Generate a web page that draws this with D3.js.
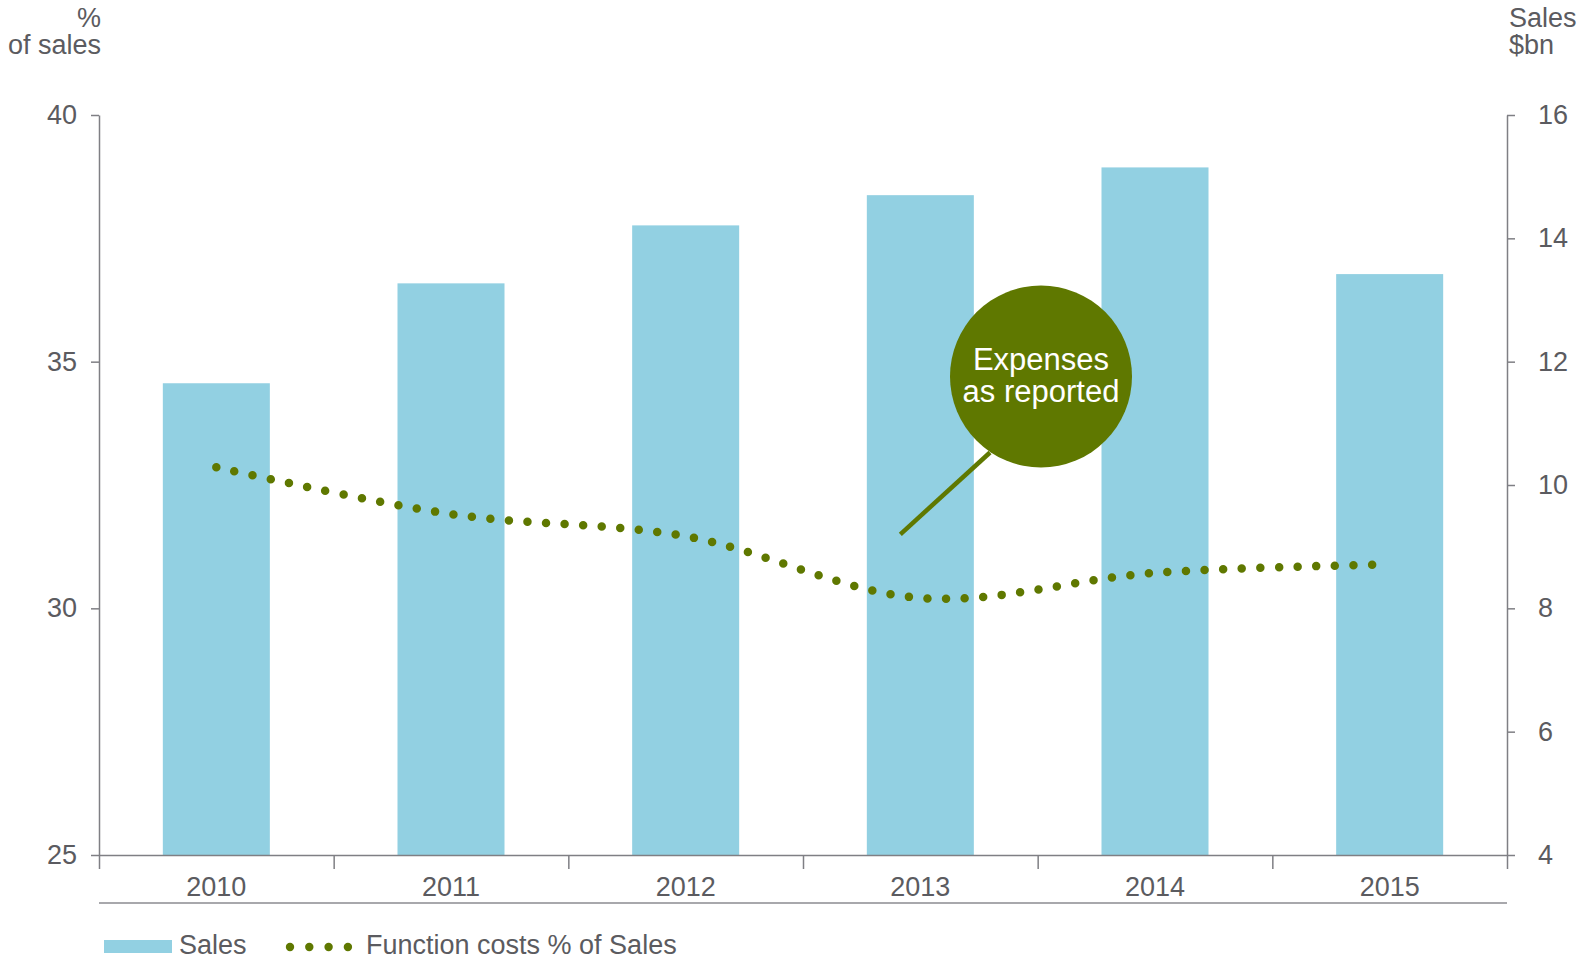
<!DOCTYPE html>
<html>
<head>
<meta charset="utf-8">
<script src="https://cdn.jsdelivr.net/npm/d3@7"></script>
<style>
  body { margin: 0; background: #fff; }
  svg { display: block; font-family: "Liberation Sans", Arial, sans-serif; }
</style>
</head>
<body>
<div id="chart"></div>
<script>
// Data
const YEARS = ["2010", "2011", "2012", "2013", "2014", "2015"];
const SALES = [11.65, 13.27, 14.21, 14.70, 15.15, 13.42];        // $bn, right axis
const COST_PCT = [32.86, 31.91, 31.46, 30.21, 30.72, 30.89];     // % of sales, left axis
const LEFT_TICKS = [25, 30, 35, 40];
const RIGHT_TICKS = [4, 6, 8, 10, 12, 14, 16];

// Constants
const width = 1587;
const height = 959;
const COLOR_BAR = "#92d0e2";
const COLOR_GREEN = "#5f7800";
const COLOR_AXIS = "#7f7f84";
const COLOR_TEXT = "#5b5b60";
const FONT_SIZE = 27;

const plot = { left: 99, right: 1507, top: 115, bottom: 855 };

const svg = d3.select("#chart")
  .append("svg")
  .attr("width", width)
  .attr("height", height);

// Scales
const x = d3.scaleBand()
  .domain(YEARS)
  .range([plot.left, plot.right])
  .paddingInner(0.544)
  .paddingOuter(0.272);
const xc = d => x(d) + x.bandwidth() / 2;

const yLeft = d3.scaleLinear().domain([25, 40]).range([plot.bottom, plot.top]);
const yRight = d3.scaleLinear().domain([4, 16]).range([plot.bottom, plot.top]);

// Bars (sales)
svg.append("g")
  .selectAll("rect")
  .data(YEARS.map((y, i) => ({ year: y, v: SALES[i] })))
  .join("rect")
  .attr("x", d => x(d.year))
  .attr("width", x.bandwidth())
  .attr("y", d => yRight(d.v))
  .attr("height", d => yRight(4) - yRight(d.v))
  .attr("fill", COLOR_BAR);

// Axes
const styleAxis = g => {
  g.select(".domain").attr("stroke", COLOR_AXIS).attr("stroke-width", 1.5);
  g.selectAll(".tick line").attr("stroke", COLOR_AXIS).attr("stroke-width", 1.5);
  g.selectAll(".tick text")
    .attr("fill", COLOR_TEXT)
    .attr("font-size", FONT_SIZE)
    .attr("font-family", "Liberation Sans, Arial, sans-serif");
};

svg.append("g")
  .attr("transform", `translate(${plot.left},0)`)
  .call(d3.axisLeft(yLeft).tickValues(LEFT_TICKS).tickSize(8).tickPadding(14).tickSizeOuter(0))
  .call(styleAxis);

svg.append("g")
  .attr("transform", `translate(${plot.right},0)`)
  .call(d3.axisRight(yRight).tickValues(RIGHT_TICKS).tickSize(8).tickPadding(23).tickSizeOuter(0))
  .call(styleAxis);

// bottom axis: ticks on the band boundaries, labels centred in the bands
const xEdges = d3.scaleLinear().domain([0, YEARS.length]).range([plot.left, plot.right]);
svg.append("g")
  .attr("transform", `translate(0,${plot.bottom})`)
  .call(d3.axisBottom(xEdges).ticks(YEARS.length).tickFormat("").tickSize(14).tickSizeOuter(0))
  .call(styleAxis);

svg.append("g")
  .attr("transform", `translate(0,${plot.bottom})`)
  .call(d3.axisBottom(x).tickSize(0).tickPadding(22))
  .call(styleAxis)
  .call(g => g.select(".domain").remove());

// line under the year labels
svg.append("line")
  .attr("x1", plot.left).attr("x2", plot.right)
  .attr("y1", 903).attr("y2", 903)
  .attr("stroke", "#a8a8ac")
  .attr("stroke-width", 2);

// Dotted smoothed line (function costs)
const line = d3.line()
  .x((d, i) => xc(YEARS[i]))
  .y(d => yLeft(d))
  .curve(d3.curveCatmullRom);

svg.append("path")
  .datum(COST_PCT)
  .attr("d", line)
  .attr("fill", "none")
  .attr("stroke", COLOR_GREEN)
  .attr("stroke-width", 8.5)
  .attr("stroke-linecap", "round")
  .attr("stroke-dasharray", "0 18.6");

// Axis titles
const title = (txt, xp, yp, anchor) => svg.append("text")
  .attr("x", xp).attr("y", yp)
  .attr("text-anchor", anchor)
  .attr("fill", COLOR_TEXT)
  .attr("font-size", FONT_SIZE)
  .text(txt);

title("%", 101, 27, "end");
title("of sales", 101, 54, "end");
title("Sales", 1509, 27, "start");
title("$bn", 1509, 54, "start");

// Annotation bubble
const pointer = [xc("2013") - 20, yLeft(31.5)];
const bubble = { cx: xc("2014") - 114, cy: yLeft(34.7), r: 91 };

svg.append("line")
  .attr("x1", pointer[0]).attr("y1", pointer[1])
  .attr("x2", bubble.cx - 51).attr("y2", bubble.cy + 76)
  .attr("stroke", COLOR_GREEN)
  .attr("stroke-width", 4.5);

svg.append("circle")
  .attr("cx", bubble.cx).attr("cy", bubble.cy).attr("r", bubble.r)
  .attr("fill", COLOR_GREEN);

svg.append("text")
  .attr("x", bubble.cx).attr("y", bubble.cy - 6)
  .attr("text-anchor", "middle")
  .attr("fill", "#fff")
  .attr("font-size", 31)
  .text("Expenses");
svg.append("text")
  .attr("x", bubble.cx).attr("y", bubble.cy + 26)
  .attr("text-anchor", "middle")
  .attr("fill", "#fff")
  .attr("font-size", 31)
  .text("as reported");

// Legend
const legend = svg.append("g").attr("transform", "translate(104,954)");

legend.append("rect")
  .attr("x", 0).attr("y", -14)
  .attr("width", 68).attr("height", 13)
  .attr("fill", COLOR_BAR);
legend.append("text")
  .attr("x", 75).attr("y", 0)
  .attr("fill", COLOR_TEXT)
  .attr("font-size", FONT_SIZE)
  .text("Sales");

legend.selectAll(".legend-dot")
  .data(d3.range(4))
  .join("circle")
  .attr("class", "legend-dot")
  .attr("cx", i => 186 + i * 19.3)
  .attr("cy", -7)
  .attr("r", 4.2)
  .attr("fill", COLOR_GREEN);
legend.append("text")
  .attr("x", 262).attr("y", 0)
  .attr("fill", COLOR_TEXT)
  .attr("font-size", FONT_SIZE)
  .text("Function costs % of Sales");
</script>
</body>
</html>
